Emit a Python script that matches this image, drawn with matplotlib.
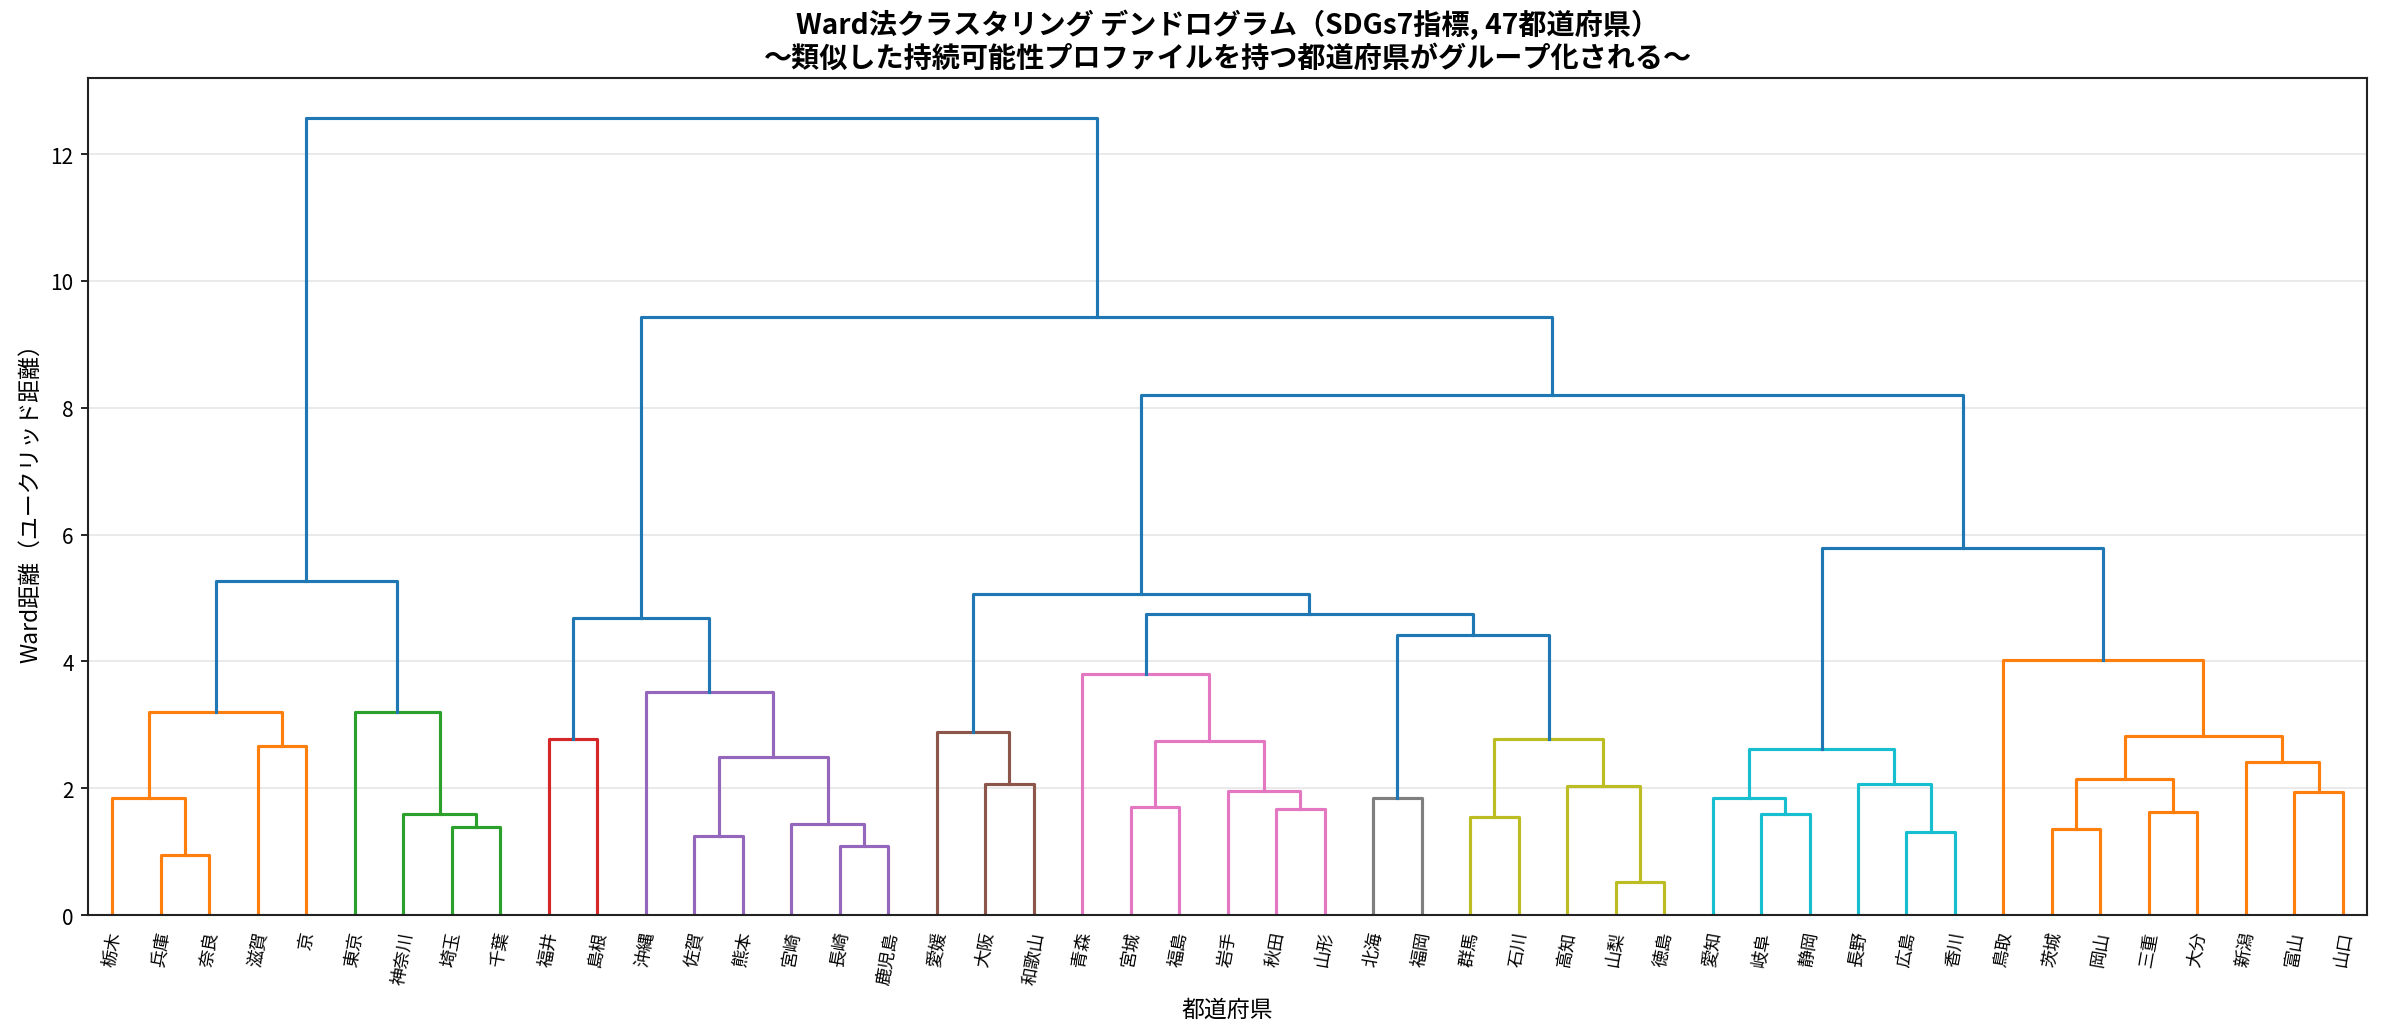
import matplotlib.pyplot as plt
import numpy as np

plt.rcParams['font.family'] = ['Noto Sans CJK JP', 'DejaVu Sans']

# leaves, in the order the dendrogram shows them
prefectures = ['栃木', '兵庫', '奈良', '滋賀', '京', '東京', '神奈川', '埼玉', '千葉',
               '福井', '島根', '沖縄', '佐賀', '熊本', '宮崎', '長崎', '鹿児島',
               '愛媛', '大阪', '和歌山', '青森', '宮城', '福島', '岩手', '秋田', '山形',
               '北海', '福岡', '群馬', '石川', '高知', '山梨', '徳島',
               '愛知', '岐阜', '静岡', '長野', '広島', '香川',
               '鳥取', '茨城', '岡山', '三重', '大分', '新潟', '富山', '山口']

# merges (linkage): node ids 0..46 are leaves, merge k creates node 47+k
merge_a = [1, 0, 3, 48, 7, 6, 5, 50, 9, 12, 15, 14, 56, 11, 55,
           18, 17, 21, 24, 23, 64, 20, 26, 28, 31, 30, 70, 69, 68, 63,
           34, 33, 37, 36, 78, 40, 42, 82, 45, 44, 84, 39, 81, 76, 61, 54]
merge_b = [2, 47, 4, 49, 8, 51, 52, 53, 10, 13, 16, 57, 58, 59, 60,
           19, 62, 22, 25, 65, 66, 67, 27, 29, 32, 71, 72, 73, 74, 75,
           35, 77, 38, 79, 80, 41, 43, 83, 46, 85, 86, 87, 88, 89, 90, 91]
merge_height = [0.95, 1.85, 2.67, 3.21, 1.39, 1.60, 3.21, 5.27, 2.78, 1.24, 1.09, 1.43, 2.50, 3.52, 4.68,
                2.07, 2.88, 1.71, 1.67, 1.95, 2.75, 3.80, 1.84, 1.54, 0.53, 2.04, 2.77, 4.41, 4.74, 5.06,
                1.59, 1.84, 1.31, 2.07, 2.62, 1.36, 1.62, 2.15, 1.94, 2.42, 2.82, 4.03, 5.79, 8.20, 9.43, 12.57]

color_threshold = 4.2
palette = ['C1', 'C2', 'C3', 'C4', 'C5', 'C6', 'C7', 'C8', 'C9']
above_color = 'C0'

n = len(prefectures)
xpos = {i: 5 + 10 * i for i in range(n)}
ypos = {i: 0.0 for i in range(n)}
children = {}
for k in range(len(merge_height)):
    node = n + k
    a, b = merge_a[k], merge_b[k]
    xpos[node] = (xpos[a] + xpos[b]) / 2
    ypos[node] = merge_height[k]
    children[node] = (a, b)

# colour clusters below the threshold, left to right
node_color = {}
counter = [0]


def assign(node, color):
    if node < n:
        return
    if ypos[node] < color_threshold:
        if color is None:
            color = palette[counter[0] % len(palette)]
            counter[0] += 1
        node_color[node] = color
    else:
        node_color[node] = above_color
    a, b = children[node]
    assign(a, color)
    assign(b, color)


root = n + len(merge_height) - 1
assign(root, None)

fig, ax = plt.subplots(figsize=(15.9, 6.8933), dpi=150)
fig.subplots_adjust(left=0.037, right=0.9925, top=0.9236, bottom=0.114)

ax.grid(axis='y', color='#e6e6e6', linewidth=0.8)
ax.set_axisbelow(True)

for node, (a, b) in children.items():
    h = ypos[node]
    ax.plot([xpos[a], xpos[a], xpos[b], xpos[b]], [ypos[a], h, h, ypos[b]],
            color=node_color[node], linewidth=1.5)

ax.set_xlim(0, 10 * n)
ax.set_ylim(0, max(merge_height) * 1.05)
ax.set_xticks([xpos[i] for i in range(n)])
ax.set_xticklabels(prefectures, rotation=80, fontsize=8.5)
ax.tick_params(axis='x', length=0, pad=7)
ax.tick_params(axis='y', labelsize=10)
for s in ax.spines.values():
    s.set_color('#222222')
    s.set_linewidth(1.0)

ax.set_title('Ward法クラスタリング デンドログラム（SDGs7指標, 47都道府県）\n'
             '〜類似した持続可能性プロファイルを持つ都道府県がグループ化される〜',
             fontsize=13.5, fontweight='bold', pad=6)
ax.set_xlabel('都道府県', fontsize=11, labelpad=6)
ax.set_ylabel('Ward距離（ユークリッド距離）', fontsize=11)

fig.savefig('out.png', dpi=150)
